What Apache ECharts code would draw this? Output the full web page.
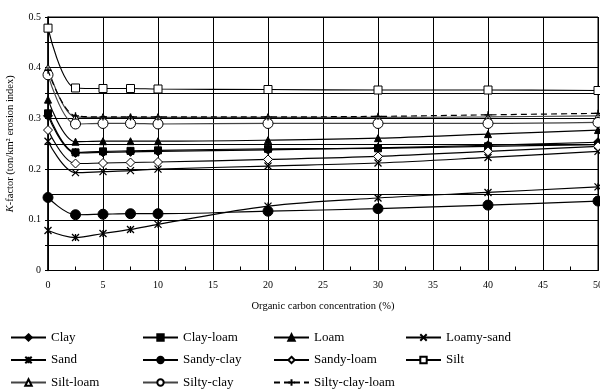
<!DOCTYPE html>
<html>
<head>
<meta charset="utf-8">
<script src="https://cdn.jsdelivr.net/npm/echarts@6/dist/echarts.min.js"></script>
<style>
  html, body { margin: 0; padding: 0; background: #fff; }
  #chart { width: 600px; height: 390px; }
</style>
</head>
<body>
<div id="chart"></div>
<script>
// organic carbon concentration (%)
const xValues = [0, 2.5, 5, 7.5, 10, 20, 30, 40, 50];
const xTicks = ["0", "5", "10", "15", "20", "25", "30", "35", "40", "45", "50"];
const yTicks = ["0", "0.1", "0.2", "0.3", "0.4", "0.5"];

// K-factor per soil texture
const clay          = [0.305, 0.232, 0.233, 0.234, 0.235, 0.238, 0.242, 0.247, 0.253];
const clayLoam      = [0.310, 0.233, 0.235, 0.236, 0.237, 0.240, 0.241, 0.245, 0.248];
const loam          = [0.337, 0.254, 0.255, 0.255, 0.255, 0.257, 0.261, 0.269, 0.277];
const loamySand     = [0.255, 0.193, 0.195, 0.197, 0.200, 0.206, 0.212, 0.223, 0.235];
const sand          = [0.079, 0.065, 0.073, 0.081, 0.091, 0.127, 0.143, 0.154, 0.165];
const sandyClay     = [0.144, 0.110, 0.111, 0.112, 0.112, 0.117, 0.122, 0.129, 0.137];
const sandyLoam     = [0.277, 0.211, 0.212, 0.213, 0.214, 0.219, 0.225, 0.235, 0.245];
const silt          = [0.478, 0.360, 0.359, 0.359, 0.358, 0.357, 0.356, 0.356, 0.355];
const siltLoam      = [0.400, 0.303, 0.302, 0.302, 0.302, 0.302, 0.302, 0.303, 0.305];
const siltyClay     = [0.386, 0.289, 0.290, 0.290, 0.289, 0.290, 0.290, 0.290, 0.292];
const siltyClayLoam = [0.395, 0.305, 0.303, 0.303, 0.303, 0.303, 0.304, 0.307, 0.310];

const X_MARK = "path://M0,0L10,10M10,0L0,10";
const STAR_MARK = "path://M0,0L10,10M10,0L0,10M5,0L5,10";
const PLUS_MARK = "path://M5,0L5,10M0,5L10,5";

const serif = "Liberation Serif";

function pairs(ys) {
  return xValues.map((x, i) => [x, ys[i]]);
}

function line(name, ys, symbol, size, fill, opts) {
  opts = opts || {};
  return {
    name: name,
    type: "line",
    data: pairs(ys),
    smooth: 0.35,
    symbol: symbol,
    symbolSize: size,
    showAllSymbol: true,
    z: opts.z || 2,
    lineStyle: { color: opts.lineColor || "#000", width: 1.2, type: opts.dash || "solid" },
    itemStyle: { color: fill, borderColor: "#000", borderWidth: opts.border || 1 },
    emphasis: { disabled: true }
  };
}

const series = [
  line("Clay", clay, "diamond", 9, "#000"),
  line("Clay-loam", clayLoam, "rect", 7, "#000"),
  line("Loam", loam, "triangle", 7, "#000"),
  line("Loamy-sand", loamySand, X_MARK, 7, "#000", { border: 1.3 }),
  line("Sand", sand, STAR_MARK, 7, "#000", { border: 1.3 }),
  line("Sandy-clay", sandyClay, "circle", 10, "#000"),
  line("Sandy-loam", sandyLoam, "diamond", 9, "#fff"),
  line("Silt", silt, "rect", 8, "#fff"),
  line("Silt-loam", siltLoam, "triangle", 7, "#fff", { lineColor: "#444" }),
  line("Silty-clay", siltyClay, "circle", 10, "#fff", { lineColor: "#444" }),
  line("Silty-clay-loam", siltyClayLoam, PLUS_MARK, 7, "#000", { dash: [6, 4], border: 1.3, z: 3 })
];

const legendColumns = [
  ["Clay", "Sand", "Silt-loam"],
  ["Clay-loam", "Sandy-clay", "Silty-clay"],
  ["Loam", "Sandy-loam", "Silty-clay-loam"],
  ["Loamy-sand", "Silt"]
];
const legendLefts = [10, 142, 273, 405];

const legend = legendColumns.map((names, i) => ({
  data: names,
  orient: "vertical",
  left: legendLefts[i],
  top: 331,
  width: 130,
  height: 80,
  padding: 0,
  itemWidth: 35,
  itemHeight: 8,
  itemGap: 9.5,
  selectedMode: false,
  textStyle: { fontFamily: serif, fontSize: 13, lineHeight: 13, color: "#000" }
}));

const option = {
  animation: false,
  backgroundColor: "#fff",
  grid: {
    left: 48, right: 2, top: 17, bottom: 119.5,
    outerBoundsMode: "none",
    show: true, borderColor: "#000", borderWidth: 1
  },
  legend: legend,
  xAxis: {
    type: "value",
    min: 0, max: 50, interval: 5,
    name: "Organic carbon concentration (%)",
    nameLocation: "middle",
    nameGap: 30,
    nameTextStyle: { fontFamily: serif, fontSize: 10.5, color: "#000" },
    axisLine: { lineStyle: { color: "#000", width: 1 } },
    axisTick: { show: true, inside: true, length: 4, lineStyle: { color: "#000" } },
    minorTick: { show: true, splitNumber: 2, length: 4, lineStyle: { color: "#000" } },
    axisLabel: {
      margin: 10, fontFamily: serif, fontSize: 10, color: "#000",
      formatter: v => xTicks[Math.round(v / 5)]
    },
    splitLine: { show: true, lineStyle: { color: "#000", width: 1 } }
  },
  yAxis: {
    type: "value",
    min: 0, max: 0.5, interval: 0.1,
    name: "{i|K}-factor (ton/km² erosion index)",
    nameLocation: "middle",
    nameGap: 32,
    nameTextStyle: {
      fontFamily: serif, fontSize: 10.5, color: "#000",
      rich: { i: { fontFamily: serif, fontSize: 10.5, fontStyle: "italic", color: "#000" } }
    },
    axisLine: { show: true, lineStyle: { color: "#000", width: 1.5 } },
    axisTick: { show: true, length: 3, lineStyle: { color: "#000" } },
    minorTick: { show: true, splitNumber: 2, length: 3, lineStyle: { color: "#000" } },
    axisLabel: {
      margin: 7, fontFamily: serif, fontSize: 10, color: "#000",
      formatter: v => yTicks[Math.round(v * 10)]
    },
    splitLine: { show: true, lineStyle: { color: "#000", width: 1 } },
    minorSplitLine: { show: true, lineStyle: { color: "#000", width: 1 } }
  },
  series: series
};

const chart = echarts.init(document.getElementById("chart"), null, { renderer: "canvas" });
chart.setOption(option);
</script>
</body>
</html>
